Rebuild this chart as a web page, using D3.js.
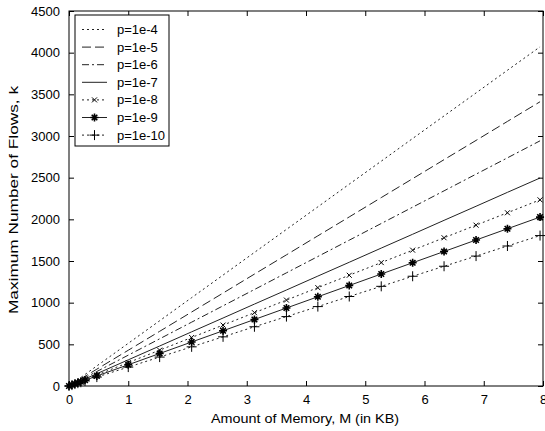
<!DOCTYPE html>
<html><head><meta charset="utf-8">
<script src="https://cdn.jsdelivr.net/npm/d3@7"></script>
<style>body{margin:0;background:#fff;} text{font-family:"Liberation Sans",Arial,sans-serif;}</style>
</head><body>
<svg id="c" width="545" height="431"></svg>
<script>
const memoryKB = [0,0.05,0.1,0.15,0.2,0.27,0.47,1.0,1.53,2.07,2.6,3.13,3.67,4.2,4.73,5.27,5.8,6.33,6.87,7.4,7.95];
const p1e4  = [0,26,51,77,102,138,241,512,783,1060,1331,1603,1879,2150,2422,2698,2970,3241,3517,3789,4070];
const p1e5  = [0,21,43,64,86,116,202,429,656,888,1115,1343,1574,1802,2029,2261,2488,2716,2947,3175,3411];
const p1e6  = [0,19,37,56,74,100,174,370,566,766,962,1158,1358,1554,1750,1950,2146,2342,2542,2738,2942];
const p1e7  = [0,16,31,47,63,85,148,314,480,650,816,983,1152,1319,1485,1655,1821,1988,2157,2324,2496];
const p1e8  = [0,14,28,42,56,76,132,281,430,582,731,880,1031,1180,1329,1481,1630,1779,1930,2079,2234];
const p1e9  = [0,13,26,38,51,69,120,255,390,528,663,798,936,1071,1206,1344,1479,1614,1752,1887,2027];
const p1e10 = [0,11,23,34,45,61,107,227,347,470,590,711,833,953,1074,1196,1317,1437,1559,1680,1805];
const seriesNames = ["p=1e-4","p=1e-5","p=1e-6","p=1e-7","p=1e-8","p=1e-9","p=1e-10"];
const xTicks = [0,1,2,3,4,5,6,7,8];
const yTicks = [0,500,1000,1500,2000,2500,3000,3500,4000,4500];

const seriesValues = [p1e4,p1e5,p1e6,p1e7,p1e8,p1e9,p1e10];
const dashes = ["2,3","9,4","7,3,2,3",null,"2,3",null,"2,3"];
const markers = [null,null,null,null,"x","star","plus"];

const svg = d3.select("#c");
const L=69, R=543, T=11, B=386;
const x = d3.scaleLinear().domain([0,8]).range([L,R]);
const y = d3.scaleLinear().domain([0,4500]).range([B,T]);

const g = svg.append("g");
const ax = svg.append("g").attr("transform",`translate(0,${B})`)
  .call(d3.axisBottom(x).tickValues(xTicks).tickSizeInner(-5).tickSizeOuter(0).tickPadding(9).tickFormat(d3.format("d")));
const axTop = svg.append("g").attr("transform",`translate(0,${T})`)
  .call(d3.axisTop(x).tickValues(xTicks).tickSizeInner(-5).tickSizeOuter(0).tickFormat(""));
const ay = svg.append("g").attr("transform",`translate(${L},0)`)
  .call(d3.axisLeft(y).tickValues(yTicks).tickSizeInner(-5).tickSizeOuter(0).tickPadding(9).tickFormat(d3.format("d")));
const ayR = svg.append("g").attr("transform",`translate(${R},0)`)
  .call(d3.axisRight(y).tickValues(yTicks).tickSizeInner(-5).tickSizeOuter(0).tickFormat(""));
[ax,axTop,ay,ayR].forEach(a=>{
  a.select(".domain").remove();
  a.selectAll("line").attr("stroke","#000");
  a.selectAll("text").attr("font-size",13).attr("fill","#000").attr("font-family","Liberation Sans, Arial, sans-serif");
});
svg.append("rect").attr("x",L).attr("y",T).attr("width",R-L).attr("height",B-T)
  .attr("fill","none").attr("stroke","#000").attr("stroke-width",1);

const line = d3.line().x(d=>x(d[0])).y(d=>y(d[1]));
function drawMarker(sel, type, cx, cy){
  const m = sel.append("g").attr("transform",`translate(${cx},${cy})`).attr("stroke","#000").attr("fill","none").attr("stroke-width",1);
  if(type==="x"){ const s=2.5; m.append("path").attr("d",`M${-s},${-s}L${s},${s}M${-s},${s}L${s},${-s}`);}
  if(type==="plus"){ const s=5; m.append("path").attr("d",`M${-s},0L${s},0M0,${-s}L0,${s}`);}
  if(type==="star"){ const s=4; m.append("path").attr("stroke-width",1.6).attr("d",`M${-s},0L${s},0M0,${-s}L0,${s}M${-s*0.7},${-s*0.7}L${s*0.7},${s*0.7}M${-s*0.7},${s*0.7}L${s*0.7},${-s*0.7}`);}
}
seriesValues.forEach((vals,i)=>{
  const pts = memoryKB.map((m,j)=>[m,vals[j]]);
  g.append("path").attr("d",line(pts)).attr("fill","none").attr("stroke","#222").attr("stroke-width",1)
    .attr("stroke-dasharray",dashes[i]);
  if(markers[i]) pts.forEach(p=>drawMarker(g,markers[i],x(p[0]),y(p[1])));
});

const lg = svg.append("g");
lg.append("rect").attr("x",75).attr("y",15).attr("width",94).attr("height",131).attr("fill","#fff").attr("stroke","#000");
seriesNames.forEach((n,i)=>{
  const yy = 29.5 + i*17.6;
  lg.append("line").attr("x1",82).attr("x2",107).attr("y1",yy).attr("y2",yy).attr("stroke","#222").attr("stroke-dasharray",dashes[i]);
  if(markers[i]) drawMarker(lg,markers[i],94.5,yy);
  lg.append("text").attr("x",117).attr("y",yy+4.5).attr("font-size",13).text(n);
});

svg.append("text").attr("x",305).attr("y",423).attr("text-anchor","middle").attr("font-size",13.5)
  .attr("textLength",188).attr("lengthAdjust","spacingAndGlyphs").text("Amount of Memory, M (in KB)");
svg.append("text").attr("transform",`translate(18,200) rotate(-90)`).attr("text-anchor","middle").attr("font-size",13)
  .attr("textLength",228).attr("lengthAdjust","spacingAndGlyphs").text("Maximum Number of Flows, k");
</script>
</body></html>
